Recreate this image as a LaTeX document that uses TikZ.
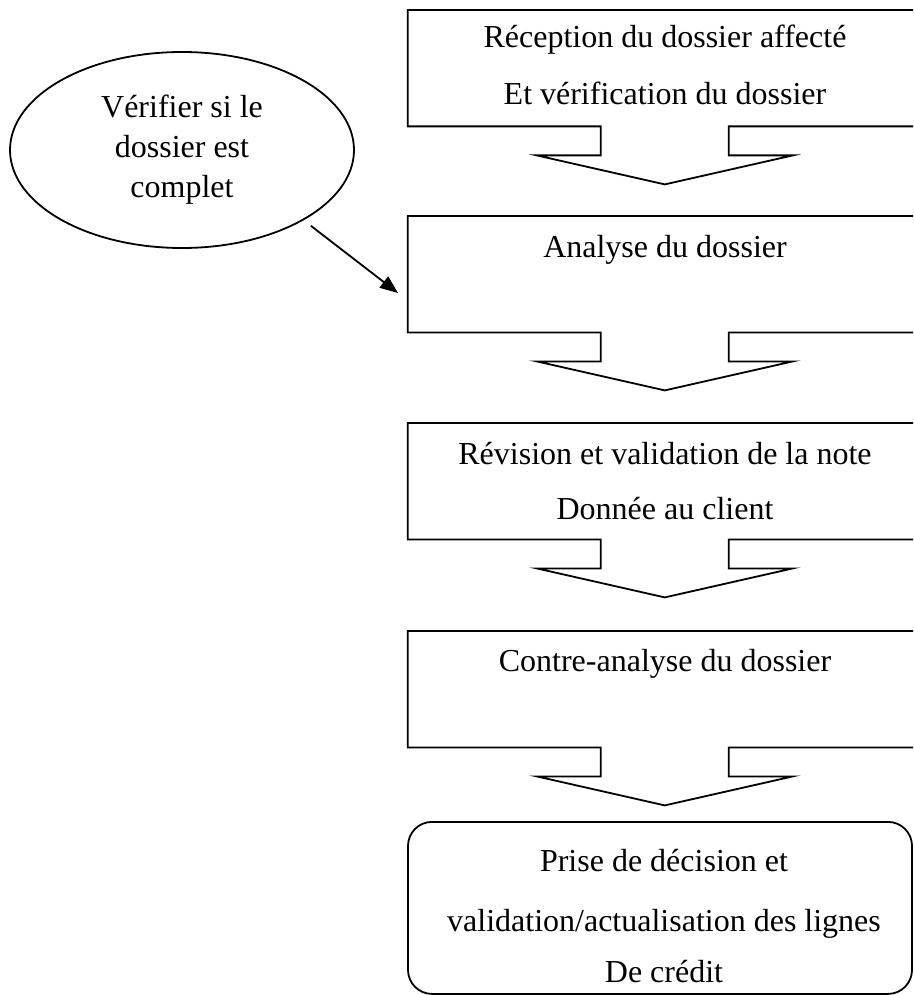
\documentclass[tikz,border=0pt]{standalone}
\usepackage{fontspec}
\setmainfont{Liberation Serif}
\usetikzlibrary{positioning,shapes.geometric,arrows.meta}

\tikzset{
  trait/.style={line width=1.8pt, line join=miter},
  etape/.style={minimum width=514pt, minimum height=116pt, inner sep=0pt, anchor=north},
  texte/.style={align=center, inner sep=0pt, font=\fontsize{32}{55}\selectfont},
}

% contour d'une etape avec sa fleche vers le bas
\newcommand{\fleche}[1]{%
  \draw[trait] (#1.north east) -- (#1.north west) -- (#1.south west)
    -- ++(193,0) -- ++(0,29) -- ++(-64,0) -- ++(128,29) -- ++(128,-29)
    -- ++(-64,0) -- ++(0,-29) -- (#1.south east) -- cycle;}

\begin{document}
\begin{tikzpicture}[x=1pt,y=-1pt]
\useasboundingbox (0,0) rectangle (913,995);
\clip (0,0) rectangle (913,995);

% etapes
\node[etape] (recep) at (665,10) {};
\node[etape] (analyse) at (665,216) {};
\node[etape] (revision) at (665,423) {};
\node[etape] (contre) at (665,631) {};
\foreach \e in {recep,analyse,revision,contre} {\fleche{\e}}

\node[texte, below=15pt of recep.north] (recep-t) {Réception du dossier affecté\\[2pt]Et vérification du dossier};
\node[texte, below=19pt of analyse.north] (analyse-t) {Analyse du dossier};
\node[texte, below=19pt of revision.north] (revision-t) {Révision et validation de la note\\Donnée au client};
\node[texte, below=18pt of contre.north] (contre-t) {Contre-analyse du dossier};

% decision finale
\node[trait, draw, rounded corners=24pt, minimum width=504pt, minimum height=172pt, anchor=north] (decision) at (660,821) {};
\node[texte, below=28pt of decision.north, xshift=4pt] (decision-t) {Prise de décision et\\[5pt]validation/actualisation des lignes\\[-4pt]De crédit};

% bulle
\node[trait, draw, ellipse, minimum width=344pt, minimum height=196pt, texte, font=\fontsize{32}{40}\selectfont] (verif) at (182,150) {Vérifier si le\\dossier est\\complet};
\coordinate (pointe) at (398,293);
\draw[trait, shorten <=9pt, -{Triangle[length=18pt,width=14pt]}] (verif.-30) -- (pointe);
\end{tikzpicture}
\end{document}
